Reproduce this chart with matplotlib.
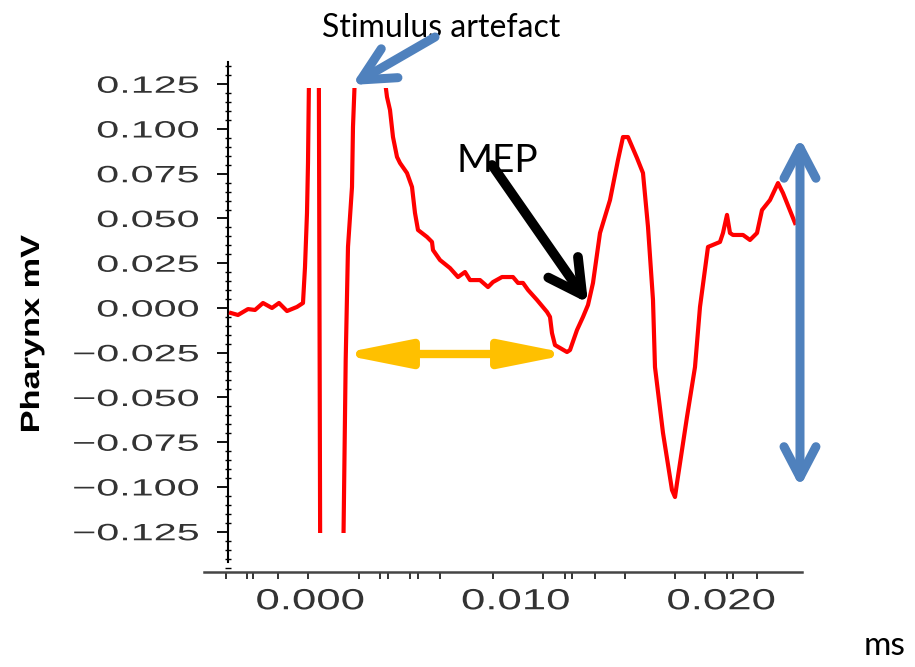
import matplotlib
matplotlib.use("Agg")
import matplotlib.pyplot as plt
from matplotlib.patches import FancyArrowPatch, Rectangle, ArrowStyle
from matplotlib.patheffects import AbstractPathEffect
from matplotlib.transforms import Affine2D
from matplotlib.ticker import MultipleLocator

# ---- data (time in s, pharynx in mV) ----
time_s = [-0.003844, -0.003504, -0.003017, -0.002676, -0.002287, -0.001849, -0.001509,
          -0.001119, -0.000633, -0.000341, -0.000243, -0.000146, -0.000097, 0.000024,
          0.000414, 0.000511, 0.001460, 0.001606, 0.001737, 0.001849, 0.002044, 0.002092,
          0.002287, 0.003406, 0.003504, 0.003747, 0.003893, 0.004039, 0.004234, 0.004380,
          0.004720, 0.004964, 0.005109, 0.005255, 0.005693, 0.005937, 0.005985, 0.006326,
          0.006813, 0.007202, 0.007543, 0.007786, 0.008273, 0.008662, 0.008905, 0.009343,
          0.009878, 0.010122, 0.010365, 0.010608, 0.011046, 0.011533, 0.011679, 0.011776,
          0.011922, 0.012506, 0.012652, 0.012993, 0.013285, 0.013528, 0.013771, 0.014112,
          0.014599, 0.014988, 0.015231, 0.015474, 0.015912, 0.016204, 0.016448, 0.016691,
          0.016788, 0.017178, 0.017616, 0.017762, 0.017859, 0.018345, 0.018735, 0.018978,
          0.019367, 0.019951, 0.020097, 0.020292, 0.020438, 0.020584, 0.021071, 0.021411,
          0.021752, 0.021995, 0.022384, 0.022774, 0.023017, 0.023601]
pharynx_mv = [-0.0028, -0.0039, -0.0006, -0.0011, 0.0028, 0.0000, 0.0028, -0.0017, 0.0006,
              0.0028, 0.0229, 0.0531, 0.0810, 0.2000, 0.2000, -0.2000, -0.2000, -0.1500,
              -0.0291, 0.0341, 0.0676, 0.1011, 0.1600, 0.1600, 0.1400, 0.1179, 0.1106,
              0.0955, 0.0844, 0.0810, 0.0754, 0.0676, 0.0531, 0.0436, 0.0397, 0.0369,
              0.0324, 0.0268, 0.0223, 0.0173, 0.0201, 0.0156, 0.0156, 0.0117, 0.0145,
              0.0173, 0.0173, 0.0140, 0.0140, 0.0101, 0.0045, -0.0022, -0.0050, -0.0140,
              -0.0207, -0.0246, -0.0235, -0.0123, -0.0050, 0.0017, 0.0140, 0.0419, 0.0603,
              0.0827, 0.0955, 0.0955, 0.0838, 0.0754, 0.0453, 0.0045, -0.0330, -0.0698,
              -0.1017, -0.1056, -0.0978, -0.0609, -0.0330, 0.0006, 0.0341, 0.0369, 0.0419,
              0.0520, 0.0419, 0.0408, 0.0408, 0.0380, 0.0419, 0.0547, 0.0603, 0.0698,
              0.0642, 0.0475]

y_ticks = [0.125, 0.100, 0.075, 0.050, 0.025, 0.000, -0.025, -0.050, -0.075, -0.100, -0.125]
y_tick_labels = ["0.125", "0.100", "0.075", "0.050", "0.025", "0.000",
                 "\u22120.025", "\u22120.050", "\u22120.075", "\u22120.100", "\u22120.125"]
x_ticks = [0.000, 0.010, 0.020]
x_tick_labels = ["0.000", "0.010", "0.020"]
x_tick_marks = [-0.004088, -0.003066, -0.002774, -0.001557, -0.000097, 0.002384, 0.003406,
                0.003796, 0.004866, 0.005255, 0.006326, 0.008905, 0.011338, 0.012409,
                0.012749, 0.013869, 0.015328, 0.017762, 0.019221, 0.020292, 0.020584,
                0.021752]


class Stretch(AbstractPathEffect):
    # widen glyphs horizontally (the original labels are drawn wide)
    def __init__(self, sx, anchor="center"):
        super().__init__()
        self.sx = sx
        self.anchor = anchor

    def draw_path(self, renderer, gc, tpath, affine, rgbFace=None):
        ext = tpath.get_extents()
        x0 = ext.x1 if self.anchor == "right" else (ext.x0 + ext.x1) / 2
        pre = Affine2D().translate(-x0, 0).scale(self.sx, 1).translate(x0, 0)
        renderer.draw_path(gc, tpath, pre + affine, rgbFace)


W, H = 915, 667
fig = plt.figure(figsize=(W / 100, H / 100), dpi=100)
ax = fig.add_axes([204 / W, 95 / H, 598 / W, 510 / H])

xmin, xmax = -0.005158, 0.023942
ymin, ymax = -0.14749, 0.13743
ax.set_xlim(xmin, xmax)
ax.set_ylim(ymin, ymax)

line, = ax.plot(time_s, pharynx_mv, color="#FF0000", lw=3.0, solid_joinstyle="round", zorder=3)
clip = Rectangle((xmin, -0.1257), xmax - xmin, 0.1229 + 0.1257, transform=ax.transData)
line.set_clip_path(clip)

# axes styling
for s in ["top", "right"]:
    ax.spines[s].set_visible(False)
ax.spines["left"].set_position(("data", -0.00399))
ax.spines["left"].set_bounds(-0.1419, ymax)
ax.spines["left"].set_linewidth(1.5)
ax.spines["left"].set_color("black")
ax.spines["bottom"].set_linewidth(1.8)
ax.spines["bottom"].set_color("#454545")

ax.set_yticks(y_ticks)
ylabs = ax.set_yticklabels(y_tick_labels, fontsize=17, family="Liberation Sans", color="#333333")
ax.yaxis.set_minor_locator(MultipleLocator(0.005))
ax.tick_params(axis="y", which="major", length=8, width=1.3, pad=13, color="black")
ax.tick_params(axis="y", which="minor", length=4, width=1.0, direction="inout", color="black")

ax.set_xticks(x_ticks)
xlabs = ax.set_xticklabels(x_tick_labels, fontsize=21, family="Liberation Sans", color="#333333")
ax.set_xticks(x_tick_marks, minor=True)
ax.tick_params(axis="x", which="major", length=0, pad=11)
ax.tick_params(axis="x", which="minor", length=5, width=1.4, color="#333333")

for t in ylabs:
    t.set_path_effects([Stretch(1.75, "right")])
for t in xlabs:
    t.set_path_effects([Stretch(1.5, "center")])

fig.text(32 / W, 1 - 334 / H, "Pharynx mV", rotation=90, ha="center", va="center",
         fontsize=19, fontweight="bold", family="Liberation Sans",
         path_effects=[Stretch(1.3, "center")])

# annotations
ann_font = "Lato"
ax.text(0.006375, 0.1562, "Stimulus artefact", ha="center", va="center",
        fontsize=23, family=ann_font, clip_on=False)
ax.text(0.00910, 0.0821, "MEP", ha="center", va="center", fontsize=28,
        family=ann_font, clip_on=False, zorder=4)
fig.text(885 / W, 1 - 646 / H, "ms", ha="center", va="center", fontsize=24, family=ann_font)

blue = "#4F81BD"
a1 = FancyArrowPatch((0.006083, 0.1514), (0.002044, 0.1246),
                     arrowstyle=ArrowStyle("->", head_length=24, head_width=12),
                     mutation_scale=1, lw=6.5, color=blue, capstyle="round",
                     joinstyle="round", shrinkA=0, shrinkB=0, clip_on=False, zorder=5)
a2 = FancyArrowPatch((0.008856, 0.0799), (0.013528, 0.0028),
                     arrowstyle=ArrowStyle("->", head_length=24, head_width=13),
                     mutation_scale=1, lw=7, color="black", capstyle="round",
                     joinstyle="round", shrinkA=0, shrinkB=0, clip_on=False, zorder=5)
a3 = FancyArrowPatch((0.001411, -0.0257), (0.012701, -0.0257),
                     arrowstyle=ArrowStyle("<|-|>", head_length=40, head_width=8),
                     mutation_scale=1, lw=6.0, color="#FFC000", capstyle="round",
                     joinstyle="round", shrinkA=0, shrinkB=0, clip_on=False, zorder=5)
a4 = FancyArrowPatch((0.023844, 0.0950), (0.023844, -0.1000),
                     arrowstyle=ArrowStyle("<->", head_length=22, head_width=11.5),
                     mutation_scale=1, lw=6.5, color=blue, capstyle="round",
                     joinstyle="round", shrinkA=0, shrinkB=0, clip_on=False, zorder=5)
for a in (a1, a2, a3, a4):
    ax.add_patch(a)

fig.savefig("out.png", dpi=100)
